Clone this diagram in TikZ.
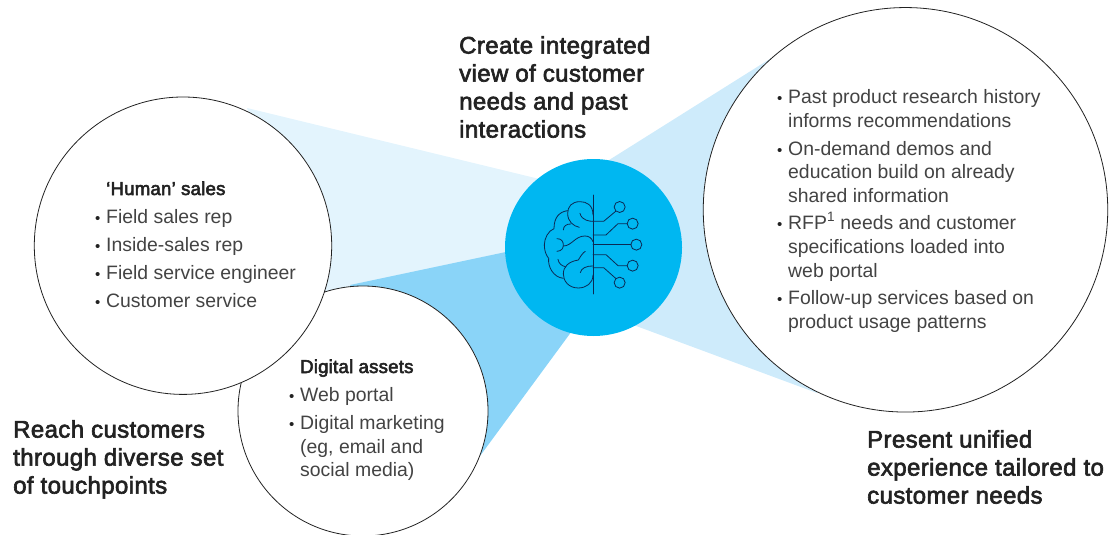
\documentclass[tikz,border=0pt]{standalone}
\usepackage{fontspec}
\setmainfont{Liberation Sans}
\newfontfamily\headfont[FakeBold=2.6,LetterSpace=1.6]{Liberation Sans}
\newfontfamily\subfont[FakeBold=3,LetterSpace=1.2]{Liberation Sans}
\definecolor{hub}{HTML}{00B7F1}
\definecolor{wedgeA}{HTML}{E3F4FD}
\definecolor{wedgeB}{HTML}{8AD4F8}
\definecolor{wedgeC}{HTML}{CEEBFB}
\definecolor{ink}{HTML}{222222}
\definecolor{brainc}{HTML}{0B2A55}
\tikzset{
  x=1pt,y=-1pt,
  touch/.style={circle,draw=ink,line width=0.8pt,fill=white,minimum size=#1,inner sep=0pt},
  head/.style={anchor=north west,inner sep=0pt,align=left,font=\fontsize{24}{28}\selectfont\headfont,text=ink},
  item/.style={anchor=base west,inner sep=0pt,font=\fontsize{19.4}{24}\selectfont,text=ink!85},
  sub/.style={anchor=base west,inner sep=0pt,font=\fontsize{18.6}{24}\selectfont\subfont,text=ink},
  bul/.style={anchor=base west,inner sep=0pt,font=\fontsize{15}{24}\selectfont,text=ink},
  br/.style={draw=brainc,line width=0.8pt,line cap=round,line join=round},
  tip/.style={circle,draw=brainc,line width=0.8pt,minimum size=11pt,inner sep=0pt},
}
\newcommand{\bl}[3]{\node[bul] at (#1-11,#2) {•}; \node[item] at (#1,#2) {#3};}
\newcommand{\tl}[3]{\node[item] at (#1,#2) {#3};}
\begin{document}
\begin{tikzpicture}
\useasboundingbox (0,0) rectangle (1114,535);
\fill[wedgeA] (247,108) -- (560,184) -- (520,249) -- (325,293) -- cycle;
\fill[wedgeB] (350,285) -- (520,249) -- (580,320) -- (480,456) -- cycle;
\fill[wedgeC] (773,57) -- (590,172) -- (620,320) -- (817,393) -- cycle;
\node[touch=250pt] (digital) at (363,411) {};
\node[touch=297.4pt] (human) at (183,245.7) {};
\node[touch=404.5pt] (unified) at (905.5,209.8) {};
\node[circle,fill=hub,minimum size=177pt,inner sep=0pt] (hubc) at (593.5,247.5) {};
% brain icon (reference coordinates)
\begin{scope}[shift={(500,150)},x=0.3333pt,y=-0.3333pt]
\draw[br] (279,135) -- (279,432);
\draw[br] (279,214) -- (311,214) -- (347,184);
\node[tip] (t1) at (359,171) {};
\draw[br] (279,255) -- (318,255) -- (354,221) -- (382,221);
\node[tip] (t2) at (398,221) {};
\draw[br] (279,284) -- (393,284);
\node[tip] (t3) at (409,284) {};
\draw[br] (279,314) -- (318,314) -- (354,347) -- (382,347);
\node[tip] (t4) at (398,347) {};
\draw[br] (279,353) -- (311,353) -- (347,385);
\node[tip] (t5) at (359,398) {};
% upper lobe
\draw[br] (279,214) .. controls (270,214) and (245,212) .. (240,190);
\draw[br] (279,195) .. controls (279,165) and (260,155) .. (240,155) .. controls (215,155) and (203,170) .. (203,190) .. controls (203,215) and (220,228) .. (238,232);
\draw[br] (203,182) .. controls (180,185) and (162,200) .. (162,236) .. controls (145,242) and (133,265) .. (133,285) .. controls (133,305) and (140,318) .. (146,325) .. controls (143,350) and (160,382) .. (190,385);
\draw[br] (190,240) .. controls (190,228) and (200,222) .. (212,222);
\draw[br] (171,266) .. controls (185,266) and (190,275) .. (190,285) .. controls (190,295) and (185,303) .. (171,304);
\draw[br] (190,288) .. controls (215,288) and (225,258) .. (255,258) .. controls (268,258) and (275,265) .. (279,275);
% lower lobe
\draw[br] (174,328) .. controls (176,340) and (185,348) .. (196,350);
\draw[br] (279,375) .. controls (279,400) and (258,414) .. (235,414) .. controls (205,414) and (190,392) .. (190,372) .. controls (190,350) and (205,335) .. (235,330) .. controls (240,322) and (248,308) .. (256,304);
\draw[br] (241,368) .. controls (243,355) and (260,347) .. (279,348);
\end{scope}
% headings
\node[head] (hcreate) at (459,36) {Create integrated\\view of customer\\needs and past\\interactions};
\node[head] (hreach) at (13,420) {Reach customers\\through diverse set\\of touchpoints};
\node[head] (hpresent) at (867,430) {Present unified\\experience tailored to\\customer needs};
% human
\node[sub] (thuman) at (106,195) {‘Human’ sales};
\bl{106}{223}{Field sales rep}
\bl{106}{251}{Inside-sales rep}
\bl{106}{279}{Field service engineer}
\bl{106}{307}{Customer service}
% digital
\node[sub] (tdigital) at (300,373) {Digital assets};
\bl{300}{401}{Web portal}
\bl{300}{429}{Digital marketing}
\tl{300}{453}{(eg, email and}
\tl{300}{476}{social media)}
% right
\bl{788}{103}{Past product research history}
\tl{788}{127}{informs recommendations}
\bl{788}{155}{On-demand demos and}
\tl{788}{178}{education build on already}
\tl{788}{202}{shared information}
\bl{788}{229}{RFP\textsuperscript{1} needs and customer}
\tl{788}{253}{specifications loaded into}
\tl{788}{277}{web portal}
\bl{788}{304}{Follow-up services based on}
\tl{788}{328}{product usage patterns}
\end{tikzpicture}
\end{document}
